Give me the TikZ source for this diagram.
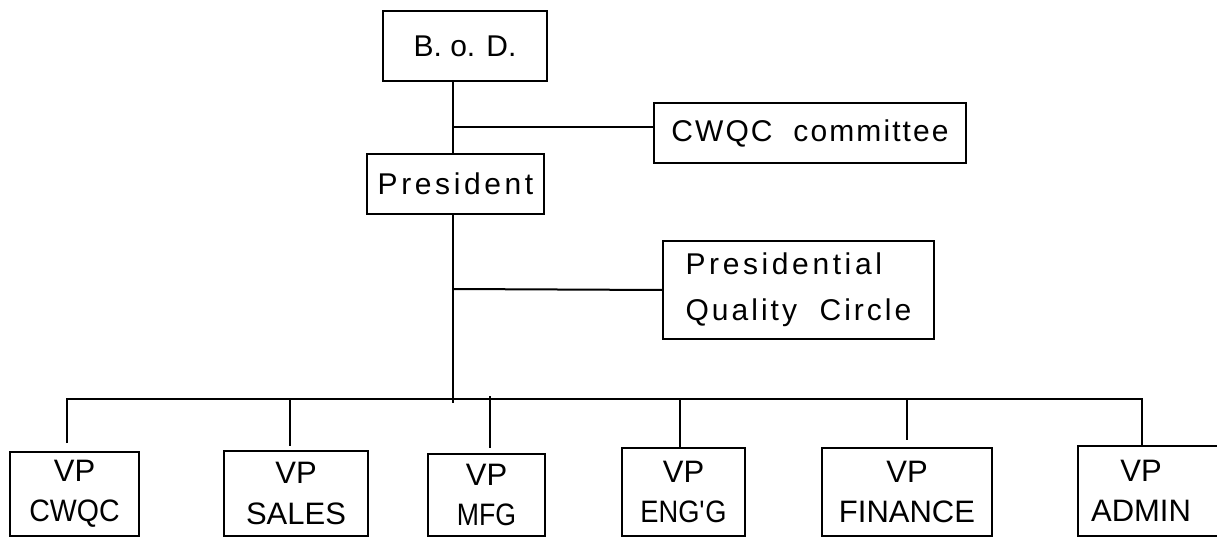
\documentclass[tikz,border=0pt]{standalone}
\usepackage{fontspec}
\setmainfont{Liberation Sans}
\newfontfamily\spacedA[LetterSpace=12]{Liberation Sans}
\newfontfamily\spacedB[LetterSpace=7]{Liberation Sans}
\newfontfamily\spacedC[LetterSpace=10]{Liberation Sans}
\newfontfamily\condA[FakeStretch=0.92]{Liberation Sans}
\newfontfamily\condB[FakeStretch=0.86]{Liberation Sans}
\newfontfamily\condC[FakeStretch=0.88]{Liberation Sans}
\begin{document}
\begin{tikzpicture}[x=1pt,y=-1pt,
  topbox/.style={draw, line width=2pt, rectangle, inner sep=0pt, anchor=north west,
    font=\fontsize{30}{46}\selectfont},
  vpbox/.style={draw, line width=2pt, rectangle, inner sep=0pt, anchor=north west,
    align=center, font=\fontsize{31}{40.5}\selectfont},
  conn/.style={line width=2pt}]
\useasboundingbox (0,0) rectangle (1217,537);

\node[topbox, minimum width=164pt, minimum height=70pt] (bod) at (382,10) {B. o. D.};
\node[topbox, minimum width=312pt, minimum height=60pt] (cwqc) at (653,102) {\spacedB CWQC\ \ committee};
\node[topbox, minimum width=177pt, minimum height=60pt] (pres) at (366,153) {\spacedA President};
\node[topbox, minimum width=271pt, minimum height=98pt, align=left] (pqc) at (662,240)
  {\spacedA Presidential\\\spacedC Quality\ \ Circle};

\node[vpbox, minimum width=129pt, minimum height=84pt] (vp1) at (9,451) {VP\\{\condA CWQC}};
\node[vpbox, minimum width=144pt, minimum height=85pt] (vp2) at (223,450) {VP\\SALES};
\node[vpbox, minimum width=117pt, minimum height=82pt] (vp3) at (427,453) {VP\\{\condB MFG}};
\node[vpbox, minimum width=123pt, minimum height=88pt] (vp4) at (621,447) {VP\\{\condC ENG\textquotesingle G}};
\node[vpbox, minimum width=170pt, minimum height=88pt] (vp5) at (821,447) {VP\\FINANCE};
\node[vpbox, text width=180pt, minimum height=90pt, align=left] (vp6) at (1077,445)
  {\makebox[126pt]{VP}\\\makebox[126pt]{ADMIN}};

% trunk
\coordinate (t) at (453,0);
\coordinate (j1) at (453,127);
\coordinate (j2) at (453,289);
\coordinate (tend) at (453,403);
\draw[conn] (bod.south -| t) -- (pres.north -| t);
\draw[conn] (pres.south -| t) -- (tend);
\draw[conn] (j1) -- (j1 -| cwqc.west);
\draw[conn] (j2) -- (pqc.west);

% bus
\coordinate (b1) at (67,399);
\coordinate (b2) at (290,399);
\coordinate (b3) at (490,399);
\coordinate (b4) at (680,399);
\coordinate (b5) at (907,399);
\coordinate (b6) at (1142,399);
\coordinate (c1) at (67,443);
\draw[conn] (c1) -- (b1) -- (b6) -- (b6 |- vp6.north);
\draw[conn, shorten >=4pt] (b2) -- (b2 |- vp2.north);
\draw[conn, shorten <=-3pt, shorten >=5pt] (b3) -- (b3 |- vp3.north);
\draw[conn] (b4) -- (b4 |- vp4.north);
\draw[conn, shorten >=7pt] (b5) -- (b5 |- vp5.north);
\end{tikzpicture}
\end{document}
